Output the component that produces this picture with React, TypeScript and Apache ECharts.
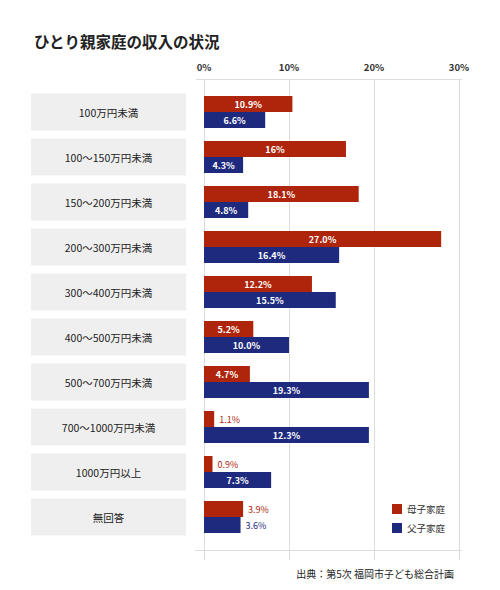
import React, { useRef, useEffect } from 'react';
import * as echarts from 'echarts';

const FONT = '"Noto Sans CJK JP", "Noto Sans", sans-serif';

const categories = [
  '100万円未満',
  '100〜150万円未満',
  '150〜200万円未満',
  '200〜300万円未満',
  '300〜400万円未満',
  '400〜500万円未満',
  '500〜700万円未満',
  '700〜1000万円未満',
  '1000万円以上',
  '無回答',
];

// bar lengths as drawn in the picture (%)
const motherValues = [10.4, 16.7, 18.2, 27.9, 12.7, 5.8, 5.4, 1.2, 1.0, 4.6];
const fatherValues = [7.2, 4.6, 5.2, 15.9, 15.5, 10.0, 19.4, 19.4, 7.9, 4.3];

// printed labels
const motherLabels = ['10.9%', '16%', '18.1%', '27.0%', '12.2%', '5.2%', '4.7%', '1.1%', '0.9%', '3.9%'];
const fatherLabels = ['6.6%', '4.3%', '4.8%', '16.4%', '15.5%', '10.0%', '19.3%', '12.3%', '7.3%', '3.6%'];

// label drawn outside the bar
const motherOutside = [false, false, false, false, false, false, false, true, true, true];
const fatherOutside = [false, false, false, false, false, false, false, false, false, true];

const RED = '#ae250c';
const BLUE = '#1e2a7e';

const buildData = (values: number[], outside: boolean[], color: string) =>
  values.map((v, i) => ({
    value: v,
    label: outside[i]
      ? { position: 'right' as const, distance: 5, color, fontWeight: 'normal' as const }
      : undefined,
  }));

export default function App() {
  const chartRef = useRef<HTMLDivElement>(null);

  useEffect(() => {
    document.body.style.margin = '0';
    if (!chartRef.current) return;
    const chart = echarts.init(chartRef.current, undefined, { renderer: 'svg' });

    const option: echarts.EChartsOption = {
      animation: false,
      backgroundColor: '#fff',
      textStyle: { fontFamily: FONT },
      title: {
        text: 'ひとり親家庭の収入の状況',
        left: 29,
        top: 28,
        textStyle: { fontSize: 15.5, fontWeight: 'bold', color: '#222', fontFamily: FONT },
      },
      legend: {
        orient: 'vertical',
        left: 392,
        top: 504,
        padding: 0,
        icon: 'rect',
        itemWidth: 10,
        itemHeight: 10,
        itemGap: 9,
        textStyle: { fontSize: 9.5, color: '#333', fontFamily: FONT },
        data: ['母子家庭', '父子家庭'],
      },
      grid: [
        { left: 204, right: 41, top: 89.5, height: 450 },
        { left: 204, right: 41, top: 79, bottom: 30 },
      ],
      xAxis: [
        { gridIndex: 0, type: 'value', min: 0, max: 30, show: false },
        {
          gridIndex: 1,
          type: 'value',
          min: 0,
          max: 30,
          interval: 10,
          position: 'top',
          axisLine: { show: false },
          axisTick: { show: false },
          splitLine: { lineStyle: { color: '#dcdcdc', width: 1 } },
          axisLabel: {
            formatter: '{value}%',
            fontSize: 9.5,
            fontWeight: 'bold',
            color: '#333',
            margin: 7,
            fontFamily: FONT,
          },
        },
      ],
      yAxis: [
        {
          gridIndex: 0,
          type: 'category',
          data: categories,
          inverse: true,
          axisLine: { show: false },
          axisTick: { show: false },
          axisLabel: {
            margin: 95.5,
            align: 'center',
            width: 155,
            height: 37,
            lineHeight: 37,
            backgroundColor: '#efefef',
            color: '#222',
            fontSize: 10.5,
            fontFamily: FONT,
          },
        },
        { gridIndex: 1, type: 'value', show: false },
      ],
      series: [
        {
          name: '母子家庭',
          type: 'bar',
          xAxisIndex: 0,
          yAxisIndex: 0,
          barWidth: 16,
          barGap: '0%',
          itemStyle: { color: RED },
          label: {
            show: true,
            position: 'inside',
            color: '#fff',
            fontWeight: 'bold',
            fontSize: 9,
            fontFamily: FONT,
            formatter: (p: any) => motherLabels[p.dataIndex],
          },
          data: buildData(motherValues, motherOutside, RED),
        },
        {
          name: '父子家庭',
          type: 'bar',
          xAxisIndex: 0,
          yAxisIndex: 0,
          barWidth: 16,
          barGap: '0%',
          itemStyle: { color: BLUE },
          label: {
            show: true,
            position: 'inside',
            color: '#fff',
            fontWeight: 'bold',
            fontSize: 9,
            fontFamily: FONT,
            formatter: (p: any) => fatherLabels[p.dataIndex],
          },
          data: buildData(fatherValues, fatherOutside, BLUE),
        },
      ],
      graphic: [
        {
          type: 'line',
          shape: { x1: 196, y1: 79.5, x2: 462, y2: 79.5 },
          style: { stroke: '#dcdcdc', lineWidth: 1 },
        },
        {
          type: 'line',
          shape: { x1: 195, y1: 550.5, x2: 462, y2: 550.5 },
          style: { stroke: '#dcdcdc', lineWidth: 1 },
        },
        {
          type: 'text',
          right: 46,
          top: 568,
          style: {
            text: '出典：第5次 福岡市子ども総合計画',
            fontSize: 10,
            fill: '#222',
            fontFamily: FONT,
          },
        },
      ],
    };

    chart.setOption(option);
    return () => {
      chart.dispose();
    };
  }, []);

  return <div ref={chartRef} style={{ width: 500, height: 590 }} />;
}
